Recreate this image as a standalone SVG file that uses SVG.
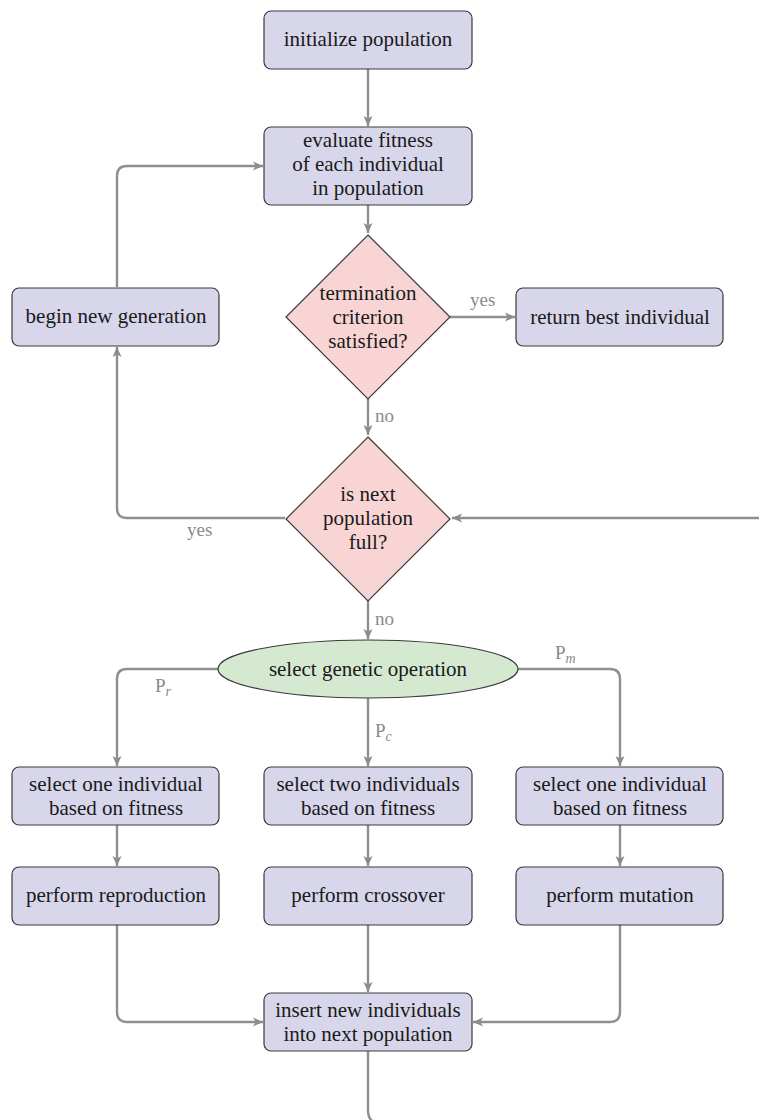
<svg xmlns="http://www.w3.org/2000/svg" width="759" height="1120" viewBox="0 0 759 1120">
<defs>
<marker id="arr" markerWidth="12" markerHeight="10" refX="10" refY="5" orient="auto" markerUnits="userSpaceOnUse">
<path d="M0,0.5 L10,5 L0,9.5 L2.5,5 Z" fill="#8c8c8c"/>
</marker>
</defs>
<style>
.box{fill:#d7d6ea;stroke:#3a3a3a;stroke-width:1.2}
.dia{fill:#f8d4d4;stroke:#3a3a3a;stroke-width:1.2}
.ell{fill:#d5e9d1;stroke:#3a3a3a;stroke-width:1.2}
.t{font-size:21px;fill:#1a1a1a;text-anchor:middle}
.lbl{font-size:19px;fill:#8a8a8a}
.c{fill:none;stroke:#8f8f8f;stroke-width:2.4;marker-end:url(#arr)}
.cn{fill:none;stroke:#8f8f8f;stroke-width:2.4}
</style>
<g id="connectors" font-family="'Liberation Serif', serif">
<path class="c" d="M368,69 V126"/>
<path class="c" d="M368,205 V233"/>
<path class="c" d="M450,317 H515"/>
<path class="c" d="M368,398 V435"/>
<path class="c" d="M285,518 H127 Q117,518 117,508 V347"/>
<path class="c" d="M117,287 V176 Q117,166 127,166 H263"/>
<path class="c" d="M770,530 Q770,518 758,518 H452"/>
<path class="c" d="M368,600 V639"/>
<path class="c" d="M218,669 H127 Q117,669 117,679 V766"/>
<path class="c" d="M368,698 V766"/>
<path class="c" d="M518,669 H610 Q620,669 620,679 V766"/>
<path class="c" d="M117,825 V866"/>
<path class="c" d="M368,825 V866"/>
<path class="c" d="M620,825 V866"/>
<path class="c" d="M117,925 V1012 Q117,1022 127,1022 H263"/>
<path class="c" d="M368,925 V992"/>
<path class="c" d="M620,925 V1012 Q620,1022 610,1022 H473"/>
<path class="cn" d="M368,1051 V1110 Q368,1124 382,1124 H770"/>
<text class="lbl" x="470" y="306">yes</text>
<text class="lbl" x="375" y="422">no</text>
<text class="lbl" x="187" y="536">yes</text>
<text class="lbl" x="375" y="625">no</text>
<text class="lbl" x="155" y="692">P<tspan font-style="italic" font-size="14" dy="4">r</tspan></text>
<text class="lbl" x="375" y="737">P<tspan font-style="italic" font-size="14" dy="4">c</tspan></text>
<text class="lbl" x="555" y="659">P<tspan font-style="italic" font-size="14" dy="4">m</tspan></text>
</g>
<g id="nodes" font-family="'Liberation Serif', serif">
<g id="n_init">
<rect class="box" x="264" y="11" width="208" height="58" rx="7"/>
<text class="t" x="368" y="46">initialize population</text>
</g>
<g id="n_eval">
<rect class="box" x="264" y="127" width="208" height="78" rx="7"/>
<text class="t" x="368" y="147">evaluate fitness</text>
<text class="t" x="368" y="171">of each individual</text>
<text class="t" x="368" y="195">in population</text>
</g>
<g id="n_term">
<polygon class="dia" points="368,235 450,317 368,399 286,317"/>
<text class="t" x="368" y="300">termination</text>
<text class="t" x="368" y="324">criterion</text>
<text class="t" x="368" y="348">satisfied?</text>
</g>
<g id="n_begin">
<rect class="box" x="12" y="288" width="207" height="58" rx="7"/>
<text class="t" x="116" y="323">begin new generation</text>
</g>
<g id="n_return">
<rect class="box" x="516" y="288" width="207" height="58" rx="7"/>
<text class="t" x="620" y="324">return best individual</text>
</g>
<g id="n_full">
<polygon class="dia" points="368,437 450,519 368,601 286,519"/>
<text class="t" x="368" y="501">is next</text>
<text class="t" x="368" y="525">population</text>
<text class="t" x="368" y="549">full?</text>
</g>
<g id="n_select">
<ellipse class="ell" cx="368" cy="669" rx="150" ry="29"/>
<text class="t" x="368" y="676">select genetic operation</text>
</g>
<g id="n_sel1">
<rect class="box" x="12" y="767" width="207" height="58" rx="7"/>
<text class="t" x="116" y="791">select one individual</text>
<text class="t" x="116" y="815">based on fitness</text>
</g>
<g id="n_sel2">
<rect class="box" x="264" y="767" width="208" height="58" rx="7"/>
<text class="t" x="368" y="791">select two individuals</text>
<text class="t" x="368" y="815">based on fitness</text>
</g>
<g id="n_sel3">
<rect class="box" x="516" y="767" width="207" height="58" rx="7"/>
<text class="t" x="620" y="791">select one individual</text>
<text class="t" x="620" y="815">based on fitness</text>
</g>
<g id="n_repro">
<rect class="box" x="12" y="867" width="207" height="58" rx="7"/>
<text class="t" x="116" y="902">perform reproduction</text>
</g>
<g id="n_cross">
<rect class="box" x="264" y="867" width="208" height="58" rx="7"/>
<text class="t" x="368" y="902">perform crossover</text>
</g>
<g id="n_mut">
<rect class="box" x="516" y="867" width="207" height="58" rx="7"/>
<text class="t" x="620" y="902">perform mutation</text>
</g>
<g id="n_insert">
<rect class="box" x="264" y="993" width="208" height="58" rx="7"/>
<text class="t" x="368" y="1017">insert new individuals</text>
<text class="t" x="368" y="1041">into next population</text>
</g>
</g>
</svg>
